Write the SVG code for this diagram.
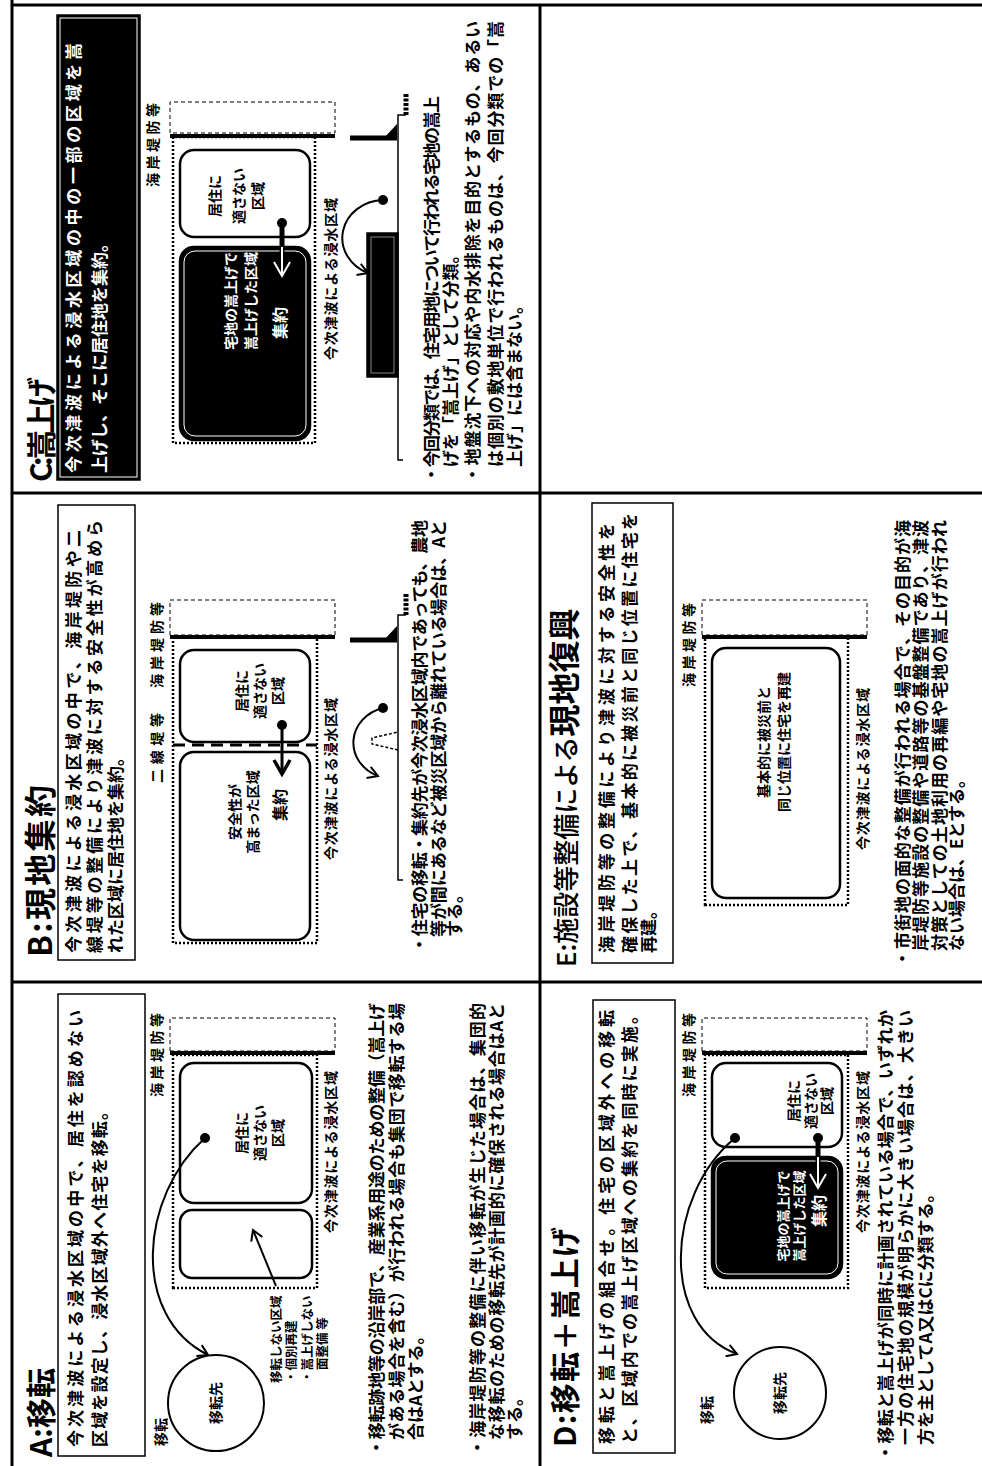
<svg xmlns="http://www.w3.org/2000/svg" width="982" height="1466" viewBox="0 0 982 1466">
<style>
.t{font-family:'Noto Sans CJK JP','Noto Sans CJK SC',sans-serif;fill:#000}
.ti{font-size:30px;font-weight:700}
.bd{font-size:17px;font-weight:700}
.lb{font-size:14px;font-weight:700}
.sm{font-size:14px;font-weight:700}
.xs{font-size:12.5px;font-weight:700}
.w{fill:#fff}
.fr{stroke:#000;stroke-width:3;fill:none}
.bx{fill:#fff;stroke:#000;stroke-width:1.5}
.dk{fill:#000;stroke:#000;stroke-width:1.5}
.in{fill:none;stroke:#fff;stroke-width:1}
.dt{fill:none;stroke:#000;stroke-width:2.5;stroke-dasharray:2 2}
.rb{fill:#fff;stroke:#000;stroke-width:2.5}
.rd{fill:#000;stroke:#000;stroke-width:2.5}
.ds{fill:#fff;stroke:#000;stroke-width:1;stroke-dasharray:4 3}
.wl{stroke:#000;stroke-width:4;fill:none}
.ar{stroke:#000;stroke-width:2;fill:none}
.gr{stroke:#000;stroke-width:1.5;fill:none}
.wt{stroke:#000;stroke-width:5;stroke-dasharray:3 1.5;fill:none}
</style>
<defs>
<marker id="mA" viewBox="0 0 14 14" refX="12" refY="7" markerWidth="14" markerHeight="14" markerUnits="userSpaceOnUse" orient="auto"><path d="M2,1 L12,7 L2,13" fill="none" stroke="#000" stroke-width="2"/></marker>
<marker id="mB" viewBox="0 0 20 20" refX="17" refY="10" markerWidth="20" markerHeight="20" markerUnits="userSpaceOnUse" orient="auto"><path d="M3,2 L17,10 L3,18" fill="none" stroke="#000" stroke-width="3.5"/></marker>
<marker id="mBo" viewBox="0 0 20 20" refX="17" refY="10" markerWidth="20" markerHeight="20" markerUnits="userSpaceOnUse" orient="auto"><path d="M3,2 L17,10 L3,18" fill="none" stroke="#000" stroke-width="6"/></marker>
<marker id="mBw" viewBox="0 0 20 20" refX="17" refY="10" markerWidth="20" markerHeight="20" markerUnits="userSpaceOnUse" orient="auto"><path d="M3,2 L17,10 L3,18" fill="none" stroke="#fff" stroke-width="2"/></marker>
</defs>
<rect width="982" height="1466" fill="#fff"/>
<g transform="translate(0,1466) rotate(-90)">
<g id="frame" class="fr">
<line x1="0" y1="12" x2="1466" y2="12"/>
<line x1="1461" y1="12" x2="1461" y2="982"/>
<line x1="484" y1="12" x2="484" y2="982"/>
<line x1="973" y1="12" x2="973" y2="982"/>
<line x1="0" y1="540" x2="1461" y2="540"/>
</g>

<g id="panelA">
<text class="t ti" x="9" y="52">A:移転</text>
<rect class="bx" x="10" y="58" width="462" height="87"/>
<text class="t bd" x="19" y="82" textLength="437">今次津波による浸水区域の中で、居住を認めない</text>
<text class="t bd" x="19" y="106" textLength="344">区域を設定し、浸水区域外へ住宅を移転。</text>
<text class="t lb" x="20" y="166">移転</text>
<circle cx="63" cy="216" r="48" fill="#fff" stroke="#000" stroke-width="2"/>
<text class="t lb" x="63" y="221" text-anchor="middle">移転先</text>
<text class="t sm" x="369" y="162" textLength="84">海岸堤防等</text>
<rect class="ds" x="415" y="170" width="33" height="165"/>
<line class="wl" x1="413" y1="170" x2="413" y2="335"/>
<rect class="dt" x="178" y="173" width="233" height="144"/>
<rect class="rb" x="263" y="180" width="140" height="132" rx="14"/>
<rect class="rb" x="188" y="180" width="68" height="132" rx="12"/>
<text class="t lb" x="333" y="247" text-anchor="middle">居住に</text>
<text class="t lb" x="333" y="265" text-anchor="middle">適さない</text>
<text class="t lb" x="333" y="283" text-anchor="middle">区域</text>
<text class="t sm" x="233" y="336" textLength="162">今次津波による浸水区域</text>
<text class="t xs" x="83" y="281">移転しない区域</text>
<text class="t xs" x="83" y="296">・個別再建</text>
<text class="t xs" x="83" y="312">・嵩上げしない</text>
<text class="t xs" x="96" y="327">面整備 等</text>
<text class="t bd" x="10" y="383" textLength="453">・移転跡地等の沿岸部で、産業系用途のための整備（嵩上げ</text>
<text class="t bd" x="26" y="403" textLength="437">がある場合を含む）が行われる場合も集団で移転する場</text>
<text class="t bd" x="26" y="422">合はAとする。</text>
<text class="t bd" x="10" y="484" textLength="453">・海岸堤防等の整備に伴い移転が生じた場合は、集団的</text>
<text class="t bd" x="26" y="503" textLength="437">な移転のための移転先が計画的に確保される場合はAと</text>
<text class="t bd" x="26" y="521">する。</text>
</g>

<g id="panelB">
<text class="t" x="509" y="52" font-size="32" font-weight="700" textLength="172">B:現地集約</text>
<rect class="bx" x="506" y="58" width="455" height="77"/>
<text class="t bd" x="513" y="80" textLength="423">今次津波による浸水区域の中で、海岸堤防や二</text>
<text class="t bd" x="513" y="101" textLength="433">線堤等の整備により津波に対する安全性が高めら</text>
<text class="t bd" x="513" y="122">れた区域に居住地を集約。</text>
<text class="t sm" x="683" y="162" textLength="70">二線堤等</text>
<text class="t sm" x="778" y="162" textLength="86">海岸堤防等</text>
<rect class="ds" x="831" y="170" width="35" height="165"/>
<line class="wl" x1="829" y1="170" x2="829" y2="335"/>
<rect class="dt" x="523" y="173" width="306" height="144"/>
<rect class="rb" x="724" y="180" width="92" height="130" rx="14"/>
<rect class="rb" x="526" y="180" width="188" height="130" rx="14"/>
<line x1="721" y1="173" x2="721" y2="317" stroke="#000" stroke-width="3" stroke-dasharray="12 7"/>
<text class="t lb" x="775" y="247" text-anchor="middle">居住に</text>
<text class="t lb" x="775" y="265" text-anchor="middle">適さない</text>
<text class="t lb" x="775" y="283" text-anchor="middle">区域</text>
<text class="t lb" x="654" y="240" text-anchor="middle">安全性が</text>
<text class="t lb" x="654" y="258" text-anchor="middle">高まった区域</text>
<text class="t" x="661" y="286" text-anchor="middle" font-size="16" font-weight="700">集約</text>
<text class="t sm" x="606" y="336" textLength="162">今次津波による浸水区域</text>
<text class="t bd" x="513" y="426" textLength="433">・住宅の移転・集約先が今次浸水区域内であっても、農地</text>
<text class="t bd" x="529" y="445" textLength="417">等が間にあるなど被災区域から離れている場合は、Aと</text>
<text class="t bd" x="529" y="461">する。</text>
</g>

<g id="panelC">
<text class="t ti" x="984" y="52" textLength="105">C:嵩上げ</text>
<rect class="dk" x="986" y="57" width="465" height="83"/>
<rect class="in" x="989" y="60" width="459" height="77"/>
<text class="t bd w" x="993" y="80" textLength="430">今次津波による浸水区域の中の一部の区域を嵩</text>
<text class="t bd w" x="993" y="106">上げし、そこに居住地を集約。</text>
<text class="t sm" x="1279" y="158" textLength="84">海岸堤防等</text>
<rect class="ds" x="1333" y="170" width="31" height="165"/>
<line class="wl" x1="1330" y1="170" x2="1330" y2="335"/>
<rect class="dt" x="1023" y="173" width="306" height="142"/>
<rect class="rb" x="1229" y="180" width="87" height="130" rx="14"/>
<rect class="rd" x="1026" y="180" width="193" height="130" rx="14"/>
<rect class="in" x="1030" y="184" width="185" height="122" rx="11"/>
<text class="t lb" x="1270" y="220" text-anchor="middle">居住に</text>
<text class="t lb" x="1270" y="244" text-anchor="middle">適さない</text>
<text class="t lb" x="1270" y="263" text-anchor="middle">区域</text>
<text class="t lb w" x="1165" y="236" text-anchor="middle">宅地の嵩上げで</text>
<text class="t lb w" x="1165" y="256" text-anchor="middle">嵩上げした区域</text>
<text class="t w" x="1143" y="286" text-anchor="middle" font-size="16" font-weight="700">集約</text>
<text class="t sm" x="1106" y="336" textLength="162">今次津波による浸水区域</text>
<text class="t bd" x="983" y="438" textLength="387">・今回分類では、住宅用地について行われる宅地の嵩上</text>
<text class="t bd" x="999" y="457">げを「嵩上げ」として分類。</text>
<text class="t bd" x="983" y="479" textLength="462">・地盤沈下への対応や内水排除を目的とするもの、あるい</text>
<text class="t bd" x="999" y="502" textLength="446">は個別の敷地単位で行われるものは、今回分類での「嵩</text>
<text class="t bd" x="999" y="521">上げ」には含まない。</text>
</g>

<g id="panelD">
<text class="t ti" x="19" y="576" textLength="220">D:移転＋嵩上げ</text>
<rect class="bx" x="13" y="593" width="453" height="82"/>
<text class="t bd" x="22" y="613" textLength="434">移転と嵩上げの組合せ。住宅の区域外への移転</text>
<text class="t bd" x="22" y="636" textLength="437">と、区域内での嵩上げ区域への集約を同時に実施。</text>
<text class="t lb" x="42" y="712">移転</text>
<circle cx="73" cy="780" r="46" fill="#fff" stroke="#000" stroke-width="2"/>
<text class="t lb" x="73" y="785" text-anchor="middle">移転先</text>
<text class="t sm" x="369" y="694" textLength="84">海岸堤防等</text>
<rect class="ds" x="415" y="702" width="33" height="165"/>
<line class="wl" x1="413" y1="702" x2="413" y2="867"/>
<rect class="dt" x="178" y="705" width="233" height="143"/>
<rect class="rb" x="319" y="712" width="84" height="130" rx="14"/>
<rect class="rd" x="188" y="712" width="121" height="130" rx="14"/>
<rect class="in" x="192" y="716" width="113" height="122" rx="11"/>
<text class="t lb" x="365" y="799" text-anchor="middle">居住に</text>
<text class="t lb" x="365" y="816" text-anchor="middle">適さない</text>
<text class="t lb" x="365" y="832" text-anchor="middle">区域</text>
<text class="t w" x="250" y="788" text-anchor="middle" font-size="13" font-weight="700">宅地の嵩上げで</text>
<text class="t w" x="250" y="804" text-anchor="middle" font-size="13" font-weight="700">嵩上げした区域</text>
<text class="t w" x="255" y="825" text-anchor="middle" font-size="16" font-weight="700">集約</text>
<text class="t sm" x="233" y="868" textLength="162">今次津波による浸水区域</text>
<text class="t bd" x="5" y="892" textLength="451">・移転と嵩上げが同時に計画されている場合で、いずれか</text>
<text class="t bd" x="21" y="912" textLength="435">一方の住宅地の規模が明らかに大きい場合は、大きい</text>
<text class="t bd" x="21" y="932">方を主としてA又はCに分類する。</text>
</g>

<g id="panelE">
<text class="t" x="499" y="576"><tspan font-size="26" font-weight="500">E:施設等整備による</tspan><tspan font-size="32" font-weight="700">現地復興</tspan></text>
<rect class="bx" x="503" y="592" width="460" height="81"/>
<text class="t bd" x="513" y="613" textLength="430">海岸堤防等の整備により津波に対する安全性を</text>
<text class="t bd" x="513" y="636" textLength="440">確保した上で、基本的に被災前と同じ位置に住宅を</text>
<text class="t bd" x="513" y="655">再建。</text>
<text class="t sm" x="779" y="694" textLength="84">海岸堤防等</text>
<rect class="ds" x="831" y="702" width="35" height="165"/>
<line class="wl" x1="829" y1="702" x2="829" y2="867"/>
<rect class="dt" x="561" y="705" width="268" height="143"/>
<rect class="rb" x="568" y="712" width="250" height="128" rx="14"/>
<text class="t lb" x="724" y="769" text-anchor="middle">基本的に被災前と</text>
<text class="t lb" x="724" y="789" text-anchor="middle">同じ位置に住宅を再建</text>
<text class="t sm" x="616" y="868" textLength="162">今次津波による浸水区域</text>
<text class="t bd" x="499" y="909" textLength="447">・市街地の面的な整備が行われる場合で、その目的が海</text>
<text class="t bd" x="515" y="927" textLength="431">岸堤防等施設の整備や道路等の基盤整備であり、津波</text>
<text class="t bd" x="515" y="946" textLength="431">対策としての土地利用の再編や宅地の嵩上げが行われ</text>
<text class="t bd" x="515" y="963">ない場合は、Eとする。</text>
</g>

<g id="sections">
<path class="gr" d="M586,403 L586,398 L851,398 L851,406"/>
<line class="wt" x1="851" y1="406" x2="873" y2="406"/>
<line x1="826" y1="350" x2="826" y2="397" stroke="#000" stroke-width="5"/>
<polygon points="826,384 840,397 826,397" fill="#000"/>
<path d="M716,398 L722,372 L728,372 L734,398" fill="none" stroke="#000" stroke-width="1.5" stroke-dasharray="3 2"/>
<path class="gr" d="M1006,403 L1006,398 L1351,398 L1351,406"/>
<line class="wt" x1="1351" y1="406" x2="1373" y2="406"/>
<line x1="1328" y1="350" x2="1328" y2="397" stroke="#000" stroke-width="5"/>
<polygon points="1328,384 1342,397 1328,397" fill="#000"/>
<rect x="1089" y="367" width="144" height="31" fill="#000" stroke="#000" stroke-width="1.5"/>
<rect x="1093" y="371" width="136" height="23" fill="none" stroke="#888" stroke-width="1"/>
</g>

<g id="connectors">
<circle cx="328" cy="205" r="5" fill="#000"/>
<path class="ar" d="M328,205 C270,140 150,130 111,208" marker-end="url(#mA)"/>
<path class="ar" d="M180,276 L236,253" marker-end="url(#mA)"/>
<circle cx="741" cy="282" r="5" fill="#000"/>
<path d="M741,282 L692,282" stroke="#000" stroke-width="3" marker-end="url(#mB)"/>
<circle cx="758" cy="383" r="5" fill="#000"/>
<path class="ar" d="M758,383 A36,40 0 0 0 690,378" marker-end="url(#mA)"/>
<circle cx="1243" cy="282" r="5" fill="#000"/>
<path d="M1243,282 L1190,282" stroke="#000" stroke-width="5" marker-end="url(#mBo)"/>
<path d="M1219,282 L1190,282" stroke="#fff" stroke-width="2" marker-end="url(#mBw)"/>
<circle cx="1266" cy="383" r="5" fill="#000"/>
<path class="ar" d="M1266,383 A38,42 0 0 0 1193,368" marker-end="url(#mA)"/>
<circle cx="328" cy="735" r="5" fill="#000"/>
<path class="ar" d="M328,735 C270,665 140,660 112,737" marker-end="url(#mA)"/>
<circle cx="328" cy="818" r="5" fill="#000"/>
<path d="M328,818 L278,818" stroke="#000" stroke-width="5" marker-end="url(#mBo)"/>
<path d="M309,818 L278,818" stroke="#fff" stroke-width="2" marker-end="url(#mBw)"/>
</g>
</g>
</svg>
